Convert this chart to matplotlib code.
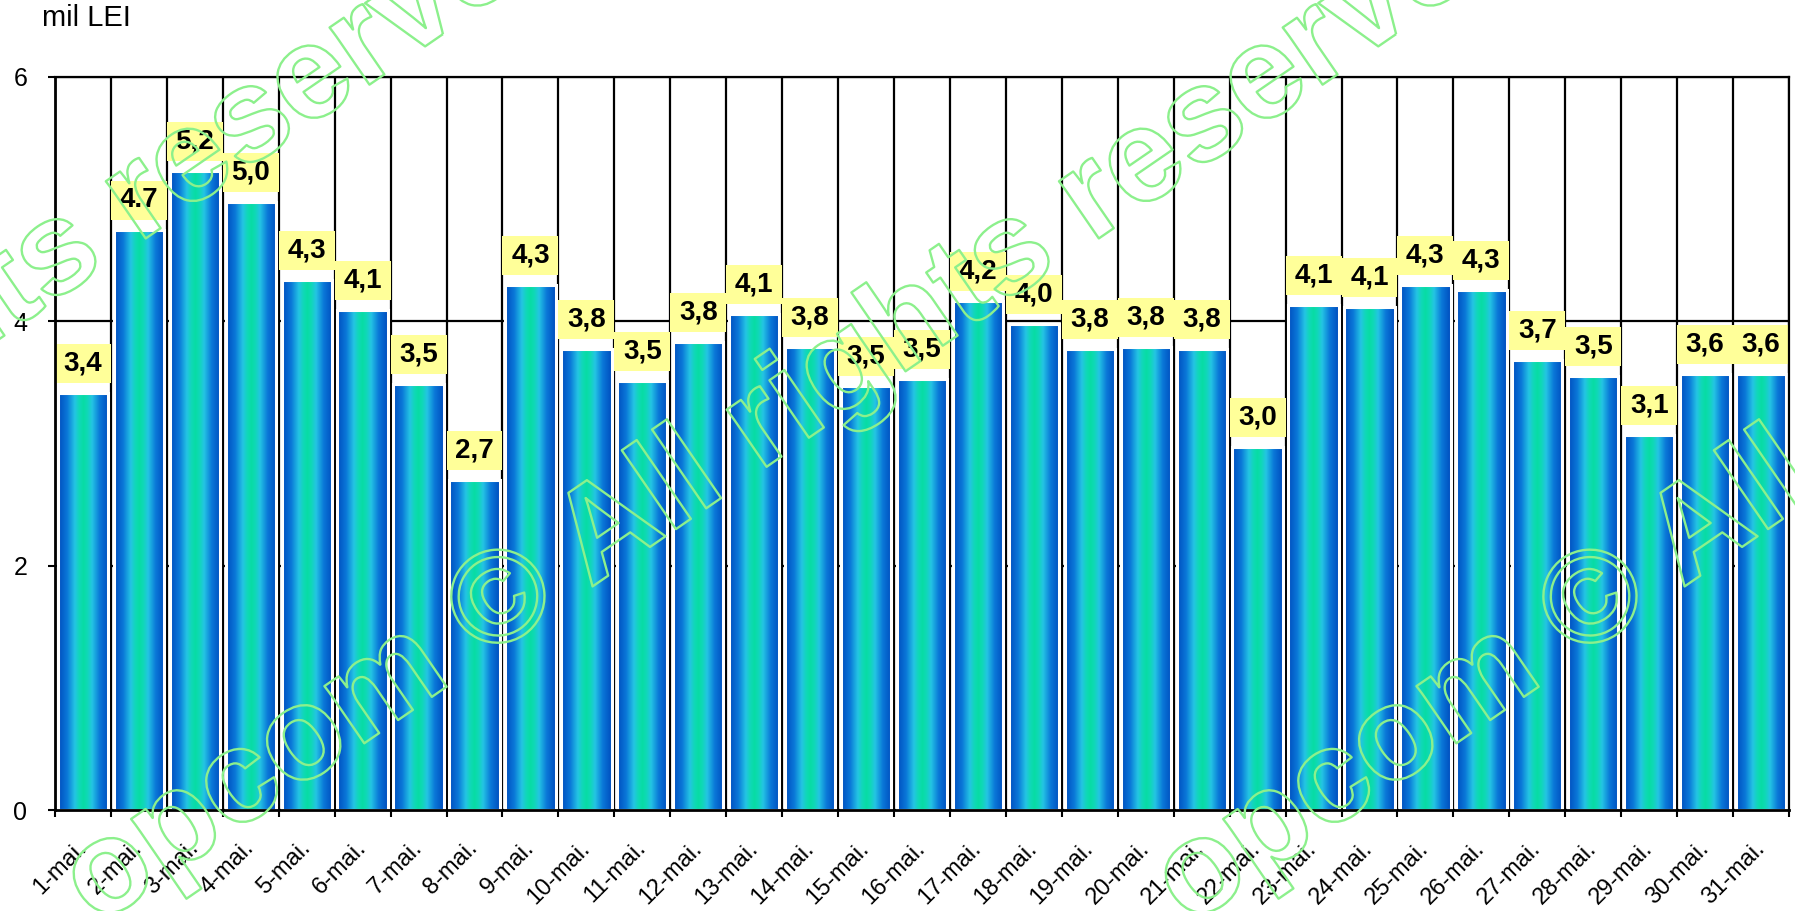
import numpy as np
import matplotlib
matplotlib.use("Agg")
import matplotlib.pyplot as plt
import matplotlib.patheffects as pe
from matplotlib.colors import LinearSegmentedColormap
from matplotlib.patches import Rectangle

plt.rcParams['font.family'] = ['Liberation Sans', 'DejaVu Sans']

days = ["1-mai.", "2-mai.", "3-mai.", "4-mai.", "5-mai.", "6-mai.", "7-mai.", "8-mai.",
        "9-mai.", "10-mai.", "11-mai.", "12-mai.", "13-mai.", "14-mai.", "15-mai.", "16-mai.",
        "17-mai.", "18-mai.", "19-mai.", "20-mai.", "21-mai.", "22-mai.", "23-mai.", "24-mai.",
        "25-mai.", "26-mai.", "27-mai.", "28-mai.", "29-mai.", "30-mai.", "31-mai."]
values = [3.41, 4.75, 5.23, 4.98, 4.34, 4.09, 3.49, 2.70, 4.30, 3.77, 3.51, 3.83, 4.06, 3.79,
          3.47, 3.53, 4.17, 3.98, 3.77, 3.79, 3.77, 2.97, 4.13, 4.12, 4.30, 4.26, 3.68, 3.55,
          3.07, 3.57, 3.57]
labels = ["3,4", "4.7", "5,2", "5,0", "4,3", "4,1", "3,5", "2,7", "4,3", "3,8", "3,5", "3,8",
          "4,1", "3,8", "3,5", "3,5", "4,2", "4,0", "3,8", "3,8", "3,8", "3,0", "4,1", "4,1",
          "4,3", "4,3", "3,7", "3,5", "3,1", "3,6", "3,6"]
yticks = [0, 2, 4, 6]
watermark = "opcom \u00a9 All rights reserved"

W, H = 1795, 911
fig = plt.figure(figsize=(W / 100, H / 100), dpi=100)
ax_l, ax_r, ax_t, ax_b = 55, 1789, 77, 810
ax = fig.add_axes([ax_l / W, 1 - ax_b / H, (ax_r - ax_l) / W, (ax_b - ax_t) / H])

cmap = LinearSegmentedColormap.from_list("bar", [
    (0.00, "#004cbe"), (0.18, "#0a78d8"), (0.33, "#24c4e4"), (0.42, "#10d8b8"),
    (0.50, "#08dca4"), (0.58, "#10d8b8"), (0.67, "#24c4e4"), (0.82, "#0a78d8"),
    (1.00, "#004cbe")])
grad = cmap(np.linspace(0, 1, 256))[None, :, :]

x = np.arange(len(values))
bars = ax.bar(x, values, width=0.9, facecolor='none', edgecolor='white', linewidth=2.2, zorder=3)
for b in bars:
    x0, w, h = b.get_x(), b.get_width(), b.get_height()
    im = ax.imshow(grad, extent=(x0, x0 + w, 0, h), aspect='auto', zorder=2,
                   interpolation='bilinear')
    im.set_clip_path(b)

# value boxes
upp = 6 / (ax_b - ax_t)  # data units per pixel
for xi, v, lab in zip(x, values, labels):
    y0 = v + 10 * upp
    bh = 39 * upp
    ax.add_patch(Rectangle((xi - 0.5, y0), 1.0, bh, facecolor='#ffff99', edgecolor='none', zorder=4))
    ax.text(xi, y0 + bh / 2, lab, ha='center', va='center', fontsize=20, fontweight='bold', zorder=5)

ax.set_xlim(-0.5, len(values) - 0.5)
ax.set_ylim(0, 6)
ax.set_axisbelow(True)

ax.set_xticks(x)
ax.set_xticklabels(days, rotation=45, ha='right', va='center', rotation_mode='anchor', fontsize=17)
ax.set_xticks(np.arange(-0.5, len(values), 1), minor=True)
ax.tick_params(axis='x', which='major', length=0, pad=25)
ax.tick_params(axis='x', which='minor', length=5, width=1.5, direction='out')
ax.xaxis.grid(True, which='minor', color='black', linewidth=1.6)

ax.set_yticks(yticks)
ax.set_yticklabels([str(t) for t in yticks], fontsize=18)
ax.tick_params(axis='y', length=5, width=1.5, direction='out', pad=15)
ax.yaxis.grid(True, color='black', linewidth=1.6)

for s in ax.spines.values():
    s.set_color('black')
    s.set_linewidth(1.6)
    s.set_zorder(6)
ax.spines['left'].set_linewidth(2)
ax.spines['bottom'].set_linewidth(2)

fig.text(42 / W, 1 - 18 / H, "mil LEI", ha='left', va='center', fontsize=21)

# watermark
for wx in [0.054, 0.6624, -0.477]:
    fig.text(wx, -0.0176, watermark, rotation=34.5, rotation_mode='anchor', ha='left',
             va='baseline', fontsize=95, fontweight='bold', color='none',
             path_effects=[pe.Stroke(linewidth=1.7, foreground='#8cf08c')], zorder=10)

fig.savefig("out.png", dpi=100)
